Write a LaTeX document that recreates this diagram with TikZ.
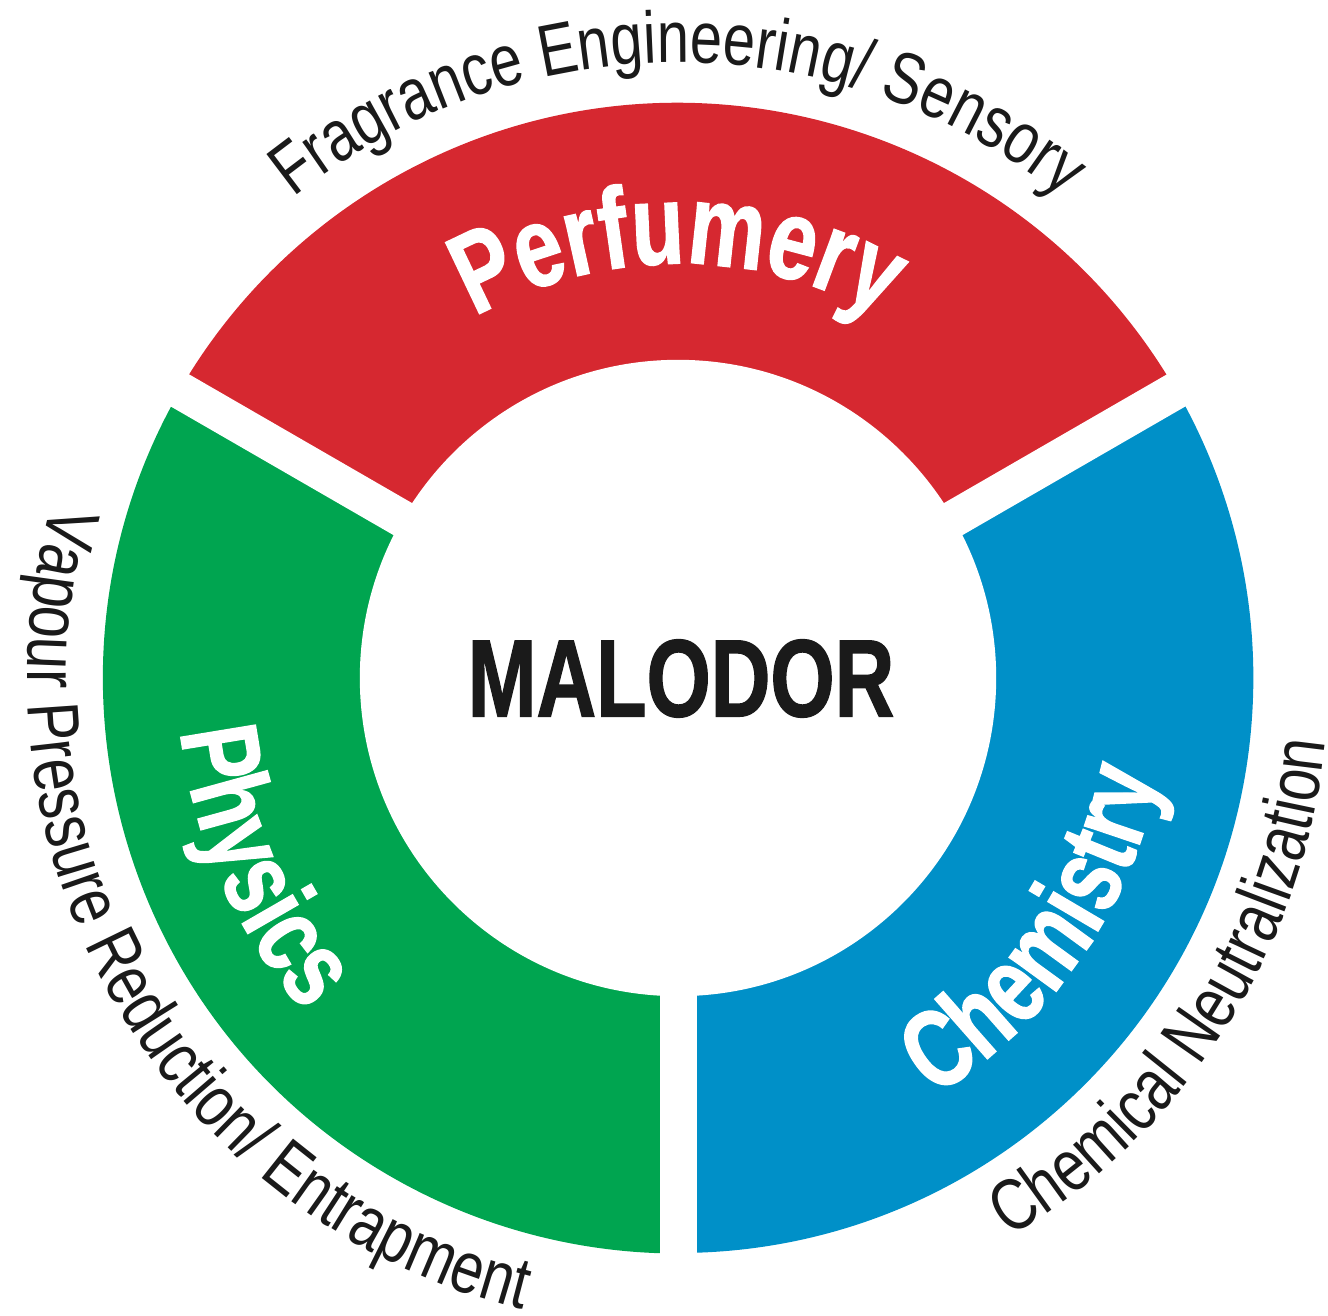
\documentclass[tikz,border=0pt]{standalone}
\usepackage{fontspec}
\setmainfont{Liberation Sans}
\newfontfamily\condreg{Liberation Sans}[FakeStretch=0.79]
\newfontfamily\condbold{Liberation Sans Bold}[FakeStretch=0.75, FakeBold=1.2]
\usetikzlibrary{decorations.text,calc}
\definecolor{pred}{RGB}{214,40,48}
\definecolor{pgreen}{RGB}{0,165,80}
\definecolor{pblue}{RGB}{0,144,200}
\definecolor{ink}{RGB}{26,26,26}
\newcommand{\outerfont}{\condreg\fontsize{20.8pt}{20.8pt}\selectfont}
\newcommand{\innerfont}{\condbold\fontsize{31.3pt}{31.3pt}\selectfont}
\newcommand{\perffont}{\condbold\fontsize{32.6pt}{32.6pt}\selectfont}
\begin{document}
\begin{tikzpicture}[x=0.01cm,y=0.01cm,
  outerlabel/.style={decorate, decoration={text along path, text align=center, text color=ink}},
  innerlabel/.style={decorate, decoration={text along path, text align=center, text color=white}}]
\useasboundingbox (0,0) rectangle (1328,1315);
\coordinate (C) at (678,637);
% ring segments
\fill[pred] (C) -- ($(C)+(30:575)$) arc[start angle=30,end angle=150,radius=5.75cm] -- cycle;
\fill[pgreen] (C) -- ($(C)+(150:575)$) arc[start angle=150,end angle=270,radius=5.75cm] -- cycle;
\fill[pblue] (C) -- ($(C)+(270:575)$) arc[start angle=270,end angle=390,radius=5.75cm] -- cycle;
\foreach \a in {30,150,270} \draw[white, line width=0.37cm] (C) -- ++(\a:590);
\fill[white] (C) circle[radius=3.18cm];
% centre
\node[inner sep=0pt, text=ink, font=\condbold\fontsize{31.3pt}{31.3pt}\selectfont] (malodor) at (681,636.5) {MALODOR};
% inner labels
\path[innerlabel, decoration={text={|\perffont|Perfumery}}]
  ($(C)+(180:414)$) arc[start angle=180,end angle=0,radius=4.14cm];
\path[innerlabel, decoration={text={|\innerfont|Physics}}]
  ($(C)+(114:500)$) arc[start angle=114,end angle=294,radius=5cm];
\path[innerlabel, decoration={text={|\innerfont|Chemistry}}]
  ($(C)+(-125:490)$) arc[start angle=-125,end angle=55,radius=4.9cm];
% outer labels
\path[outerlabel, decoration={text={|\outerfont|Fragrance Engineering/ Sensory}}]
  ($(C)+(180:615)$) arc[start angle=180,end angle=0,radius=6.15cm];
\path[outerlabel, decoration={text={|\outerfont|Vapour Pressure Reduction/ Entrapment}}]
  ($(C)+(120.3:650)$) arc[start angle=120.3,end angle=300.3,radius=6.5cm];
\path[outerlabel, decoration={text={|\outerfont|Chemical Neutralization}}]
  ($(C)+(-122.5:650)$) arc[start angle=-122.5,end angle=57.5,radius=6.5cm];
\end{tikzpicture}
\end{document}
